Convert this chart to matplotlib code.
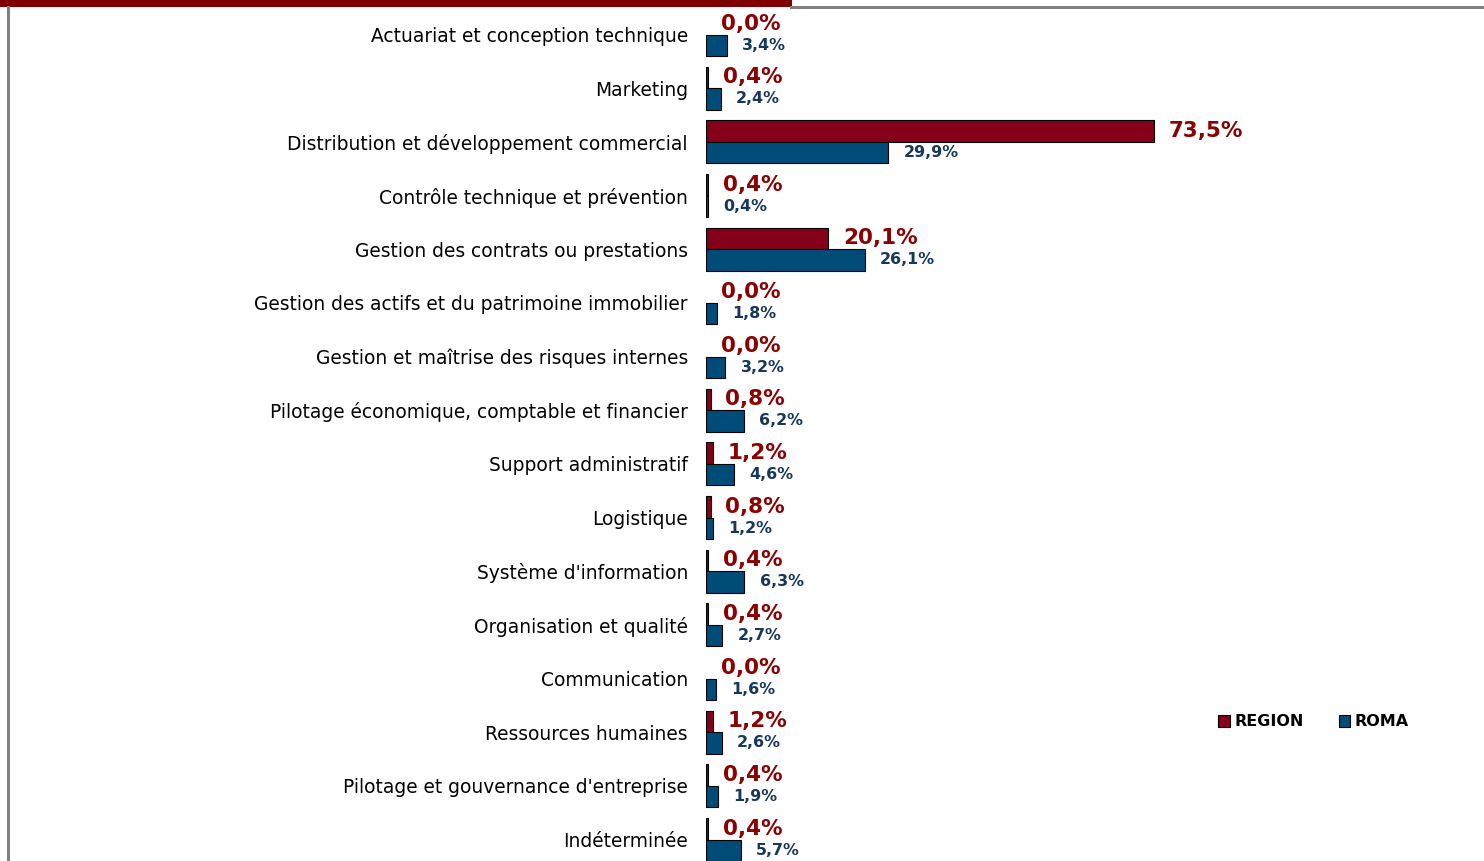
import matplotlib
matplotlib.use("Agg")
import matplotlib.pyplot as plt
from matplotlib.patches import Rectangle, Patch
import numpy as np

categories = [
    "Actuariat et conception technique",
    "Marketing",
    "Distribution et développement commercial",
    "Contrôle technique et prévention",
    "Gestion des contrats ou prestations",
    "Gestion des actifs et du patrimoine immobilier",
    "Gestion et maîtrise des risques internes",
    "Pilotage économique, comptable et financier",
    "Support administratif",
    "Logistique",
    "Système d'information",
    "Organisation et qualité",
    "Communication",
    "Ressources humaines",
    "Pilotage et gouvernance d'entreprise",
    "Indéterminée",
]
region = [0.0, 0.4, 73.5, 0.4, 20.1, 0.0, 0.0, 0.8, 1.2, 0.8, 0.4, 0.4, 0.0, 1.2, 0.4, 0.4]
roma = [3.4, 2.4, 29.9, 0.4, 26.1, 1.8, 3.2, 6.2, 4.6, 1.2, 6.3, 2.7, 1.6, 2.6, 1.9, 5.7]

RED_BAR = "#850019"
BLUE_BAR = "#004C79"
RED_TXT = "#8B0000"
BLUE_TXT = "#17375E"

W, H = 1484, 861
fig = plt.figure(figsize=(W / 100, H / 100), dpi=100)
fig.patch.set_facecolor("white")

# axes in pixel terms: bars start at x=706, ~6.1 px per percent
left_px, top_px = 706, 8
ax = fig.add_axes([left_px / W, 0, (W - left_px) / W, (H - top_px) / H])
ax.set_xlim(0, (W - left_px) / 6.09)
y0, dy = 34.5, 53.67
ax.set_ylim((H - y0) / dy, (top_px - y0) / dy)

y = np.arange(len(categories))
h = 0.4
red_edges = ["black" if v > 0 else "none" for v in region]
ax.barh(y - h / 2, region, height=h, color=RED_BAR, edgecolor=red_edges, linewidth=0.8)
ax.barh(y + h / 2, roma, height=h, color=BLUE_BAR, edgecolor="black", linewidth=0.8)

for i in range(len(categories)):
    ax.annotate(f"{region[i]:.1f}%".replace(".", ","), (region[i], y[i] - h / 2),
                xytext=(10.5, 0), textcoords="offset points", va="center", ha="left",
                color=RED_TXT, fontsize=15.5, fontweight="bold")
    ax.annotate(f"{roma[i]:.1f}%".replace(".", ","), (roma[i], y[i] + h / 2),
                xytext=(11, 0), textcoords="offset points", va="center", ha="left",
                color=BLUE_TXT, fontsize=11.4, fontweight="bold")

ax.set_yticks(y)
ax.set_yticklabels(categories, fontsize=13.4, color="black")
ax.tick_params(axis="y", length=0, pad=13)
ax.set_xticks([])
for s in ax.spines.values():
    s.set_visible(False)

handles = [Patch(facecolor=RED_BAR, edgecolor="black", linewidth=0.8, label="REGION"),
           Patch(facecolor=BLUE_BAR, edgecolor="black", linewidth=0.8, label="ROMA")]
fig.legend(handles=handles, loc="center left", bbox_to_anchor=(1204 / W, 1 - 722 / H),
           ncol=2, frameon=False, handlelength=0.7, handleheight=0.7, handletextpad=0.3,
           columnspacing=2.2, prop={"weight": "bold", "size": 11.5})

# frame pieces: title bar remnant and gray border
fig.add_artist(Rectangle((0, 1 - 7 / H), 792 / W, 7 / H, transform=fig.transFigure,
                         facecolor="#800000", edgecolor="none"))
fig.add_artist(Rectangle((790 / W, 1 - 9 / H), (W - 790) / W, 3 / H, transform=fig.transFigure,
                         facecolor="#808080", edgecolor="none"))
fig.add_artist(Rectangle((7 / W, 0), 3 / W, 1 - 6 / H, transform=fig.transFigure,
                         facecolor="#808080", edgecolor="none"))

fig.savefig("out.png", dpi=100, facecolor="white")
